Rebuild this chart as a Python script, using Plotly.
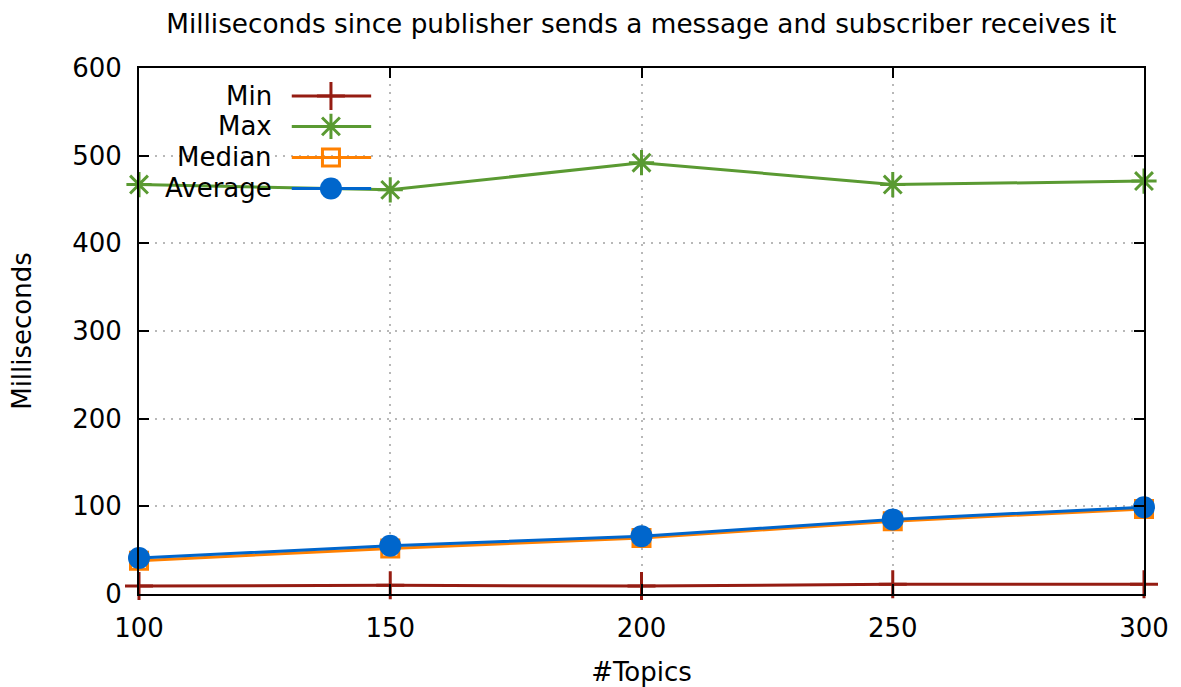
import plotly.graph_objects as go

# Number of topics on the x axis
topics = [100, 150, 200, 250, 300]

# Latency statistics (milliseconds)
min_ms = [9, 10, 9, 11, 11]
max_ms = [467, 461, 492, 467, 471]
median_ms = [38, 52, 64, 83, 97]
average_ms = [41, 55, 66, 85, 99]

series_names = ["Min", "Max", "Median", "Average"]
colors = ["#951c12", "#5a9a32", "#ff8000", "#0066cc"]
symbols = ["cross-thin-open", "asterisk-open", "square-open", "circle"]
sizes = [20, 21, 17, 22]

FONT = "DejaVu Sans"
FS = 26

fig = go.Figure()

for name, ys, color, sym, sz in zip(series_names, [min_ms, max_ms, median_ms, average_ms],
                                   colors, symbols, sizes):
    marker = dict(symbol=sym, size=sz, color=color)
    if sym != "circle":
        marker["line"] = dict(color=color, width=3)
    fig.add_trace(go.Scatter(
        x=topics, y=ys, name=name, mode="lines+markers",
        line=dict(color=color, width=3), marker=marker,
        cliponaxis=False, showlegend=False,
    ))

# Key in the upper-left corner: label on the left, sample line and point on the right
key_rows = [0.947, 0.889, 0.830, 0.771]
for name, color, sym, sz, ky in zip(series_names, colors, symbols, sizes, key_rows):
    fig.add_shape(type="line", xref="x2", yref="y2", x0=0.152, x1=0.231, y0=ky, y1=ky,
                  line=dict(color=color, width=3))
    marker = dict(symbol=sym, size=sz, color=color)
    if sym != "circle":
        marker["line"] = dict(color=color, width=3)
    fig.add_trace(go.Scatter(x=[0.191], y=[ky], xaxis="x2", yaxis="y2", mode="markers",
                             marker=marker, showlegend=False, hoverinfo="skip",
                             cliponaxis=False))
    fig.add_annotation(x=0.134, y=ky, xref="x2", yref="y2", text=name, showarrow=False,
                       xanchor="right", yanchor="middle",
                       font=dict(family=FONT, size=FS, color="black"))

axis_common = dict(
    showline=True, linecolor="black", linewidth=2, mirror="ticks",
    ticks="inside", ticklen=10, tickwidth=1.5, tickcolor="black",
    showgrid=True, gridcolor="#b8b8b8", griddash="2px,6px", gridwidth=1.5,
    zeroline=False, automargin=False,
    tickfont=dict(family=FONT, size=FS, color="black"),
)

fig.update_layout(
    width=1181, height=687,
    margin=dict(l=139, r=37, t=68, b=93),
    paper_bgcolor="white", plot_bgcolor="white",
    title=dict(text="Milliseconds since publisher sends a message and subscriber receives it",
               x=0.543, xanchor="center", y=0.966, yanchor="middle",
               font=dict(family=FONT, size=26.3, color="black")),
    xaxis=dict(range=[100, 300], tickvals=topics, ticklabelstandoff=10,
               title=dict(text="#Topics", standoff=24,
                          font=dict(family=FONT, size=FS, color="black")), **axis_common),
    yaxis=dict(range=[0, 600], tickvals=[0, 100, 200, 300, 400, 500, 600], ticklabelstandoff=10,
               title=dict(text="Milliseconds", standoff=33,
                          font=dict(family=FONT, size=FS, color="black")), **axis_common),
    xaxis2=dict(range=[0, 1], overlaying="x", visible=False, fixedrange=True),
    yaxis2=dict(range=[0, 1], overlaying="y", visible=False, fixedrange=True),
)

fig.write_html("out.html")
